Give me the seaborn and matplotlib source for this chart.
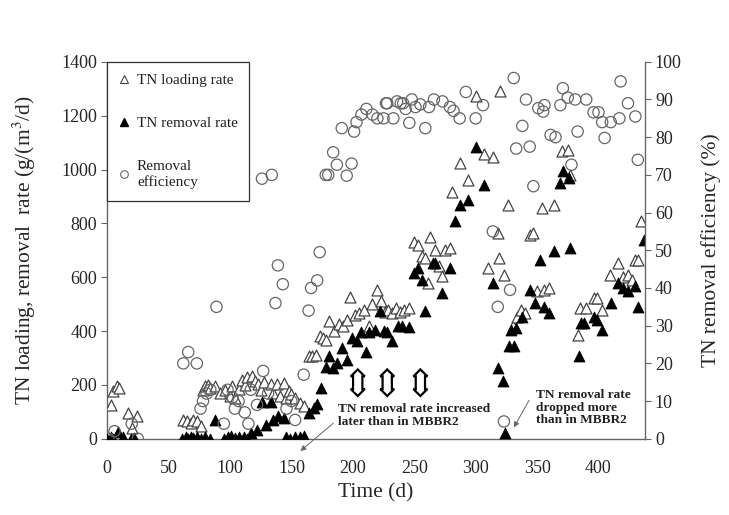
import matplotlib
matplotlib.use("Agg")
import matplotlib.pyplot as plt
import seaborn as sns
import pandas as pd
from matplotlib.lines import Line2D

# ---------------- data ----------------
load_day = [3, 5, 8, 10, 17, 20, 24,
            62, 65, 68, 70, 73, 76, 78, 80, 82, 84, 88, 92, 96, 100, 102, 104, 107, 110, 112, 114,
            118, 120, 123, 125, 128, 133, 135, 138, 141, 144, 146, 148, 150, 153, 157, 160, 164, 167,
            170, 173, 176, 178, 181, 185, 189, 192, 195, 198, 202, 205, 209, 213, 216, 220, 223, 226,
            229, 232, 235, 238, 242, 246, 250, 253, 256, 259, 261, 263, 267, 270, 273, 275, 279, 281,
            287, 294, 300, 307, 310, 314, 318, 319, 320, 323, 326, 330, 334, 337, 340, 344, 347, 350,
            354, 356, 360, 364, 370, 375, 377, 383, 385, 390, 396, 399, 403, 409, 416, 420, 424, 427,
            430, 432, 435]
load_val = [126, 176, 195, 188, 95, 40, 83,
            70, 65, 60, 70, 65, 46, 182, 195, 200, 190, 196, 170, 182, 160, 196, 150, 185, 219, 200, 231,
            232, 215, 203, 180, 210, 203, 170, 203, 160, 207, 150, 176, 168, 150, 133, 120, 306, 306,
            310, 380, 375, 367, 436, 400, 425, 417, 440, 528, 460, 467, 480, 417, 500, 553, 510, 470,
            480, 467, 485, 470, 480, 485, 729, 720, 680, 671, 578, 751, 702, 640, 603, 702, 708, 918,
            1024, 962, 1274, 1058, 634, 1048, 766, 671, 1293, 609, 869, 417, 454, 480, 467, 757, 764, 550,
            857, 553, 560, 869, 1067, 1071, 980, 386, 485, 485, 522, 522, 479, 609, 652, 600, 609, 590,
            665, 665, 807]

rem_day = [0, 3, 5, 9, 13, 19, 22,
           61, 64, 66, 68, 70, 73, 76, 80, 84, 88, 95, 98, 101, 104, 107, 111, 114, 117, 122, 126,
           129, 133, 135, 139, 144, 146, 149, 153, 157, 160, 164, 168, 171, 174, 178, 181, 184, 187,
           191, 195, 199, 203, 207, 211, 213, 218, 222, 225, 228, 232, 237, 240, 246, 250, 253, 256,
           259, 265, 267, 273, 279, 283, 287, 294, 300, 307, 314, 318, 322, 324, 327, 329, 331, 333,
           338, 344, 348, 352, 356, 360, 364, 369, 371, 376, 377, 384, 386, 388, 396, 399, 403, 410,
           416, 420, 424, 430, 432, 437]
rem_val = [0, 5, 0, 27, 5, 0, 3,
           0, 5, 0, 8, 3, 5, 0, 5, 0, 70, 0, 5, 10, 3, 8, 5, 0, 21, 33, 138,
           50, 138, 70, 83, 77, 5, 0, 5, 5, 10, 96, 114, 131, 188, 268, 306, 264, 283,
           337, 293, 374, 362, 398, 324, 398, 405, 473, 400, 398, 362, 417, 417, 414, 615, 634, 590,
           473, 652, 652, 541, 634, 807, 869, 887, 1085, 943, 578, 262, 213, 21, 343, 405, 343, 411,
           454, 553, 504, 665, 491, 467, 696, 949, 993, 968, 708, 308, 430, 430, 454, 440, 405, 504,
           578, 560, 547, 566, 491, 739]

eff_day = [1, 6, 20, 25,
           62, 66, 73, 76, 78, 81, 84, 89, 95, 98, 102, 104, 107, 112, 115, 117, 122, 126, 127,
           131, 134, 137, 139, 143, 146, 150, 153, 160, 164, 166, 171, 173, 178, 180, 184, 187, 191,
           195, 199, 201, 203, 207, 211, 216, 220, 225, 227, 228, 233, 236, 239, 241, 243, 246, 248,
           251, 255, 259, 262, 266, 273, 279, 282, 287, 292, 300, 306, 314, 318, 323, 328, 331, 333,
           338, 341, 344, 347, 351, 355, 356, 361, 365, 369, 371, 375, 378, 381, 383, 390, 396, 400,
           403, 405, 410, 417, 418, 424, 430, 432]
eff_val = [0, 2, 4, 0,
           20, 23, 20, 8, 10, 12, 13, 35, 4, 13, 11, 8, 10, 7, 4, 13, 9, 69, 18,
           12, 70, 36, 46, 41, 8, 10, 5, 17, 34, 40, 42, 49.5, 70, 70, 76, 72.7, 82.4,
           69.8, 73, 81.5, 84, 86, 87.5, 86, 85, 85, 89, 89, 85, 89.5, 89, 89, 87.5, 83.8, 90,
           88, 88.7, 82.4, 88, 90, 89.5, 88, 87, 85, 92, 85, 88.5, 55, 35, 4.6, 39.5, 95.7, 77,
           83, 90, 77.5, 67, 87.7, 86.8, 88.5, 80.6, 80, 88.5, 93, 90.5, 72.7, 90, 81.5, 90, 86.6, 86.6,
           84, 79.8, 84, 85, 94.8, 89, 85.5, 74]

x_ticks = [0, 50, 100, 150, 200, 250, 300, 350, 400]
left_ticks = [0, 200, 400, 600, 800, 1000, 1200, 1400]
right_ticks = [0, 10, 20, 30, 40, 50, 60, 70, 80, 90, 100]
legend_labels = ["TN loading rate", "TN removal rate", "Removal\nefficiency"]
arrow_days = [204, 228, 255]
arrow_level = 209

load_df = pd.DataFrame({"day": load_day, "val": load_val})
rem_df = pd.DataFrame({"day": rem_day, "val": rem_val})
eff_df = pd.DataFrame({"day": eff_day, "val": eff_val})

# ---------------- style ----------------
sns.set_style("white")
plt.rcParams["font.family"] = ["Liberation Serif", "DejaVu Serif"]
plt.rcParams["mathtext.fontset"] = "stix"

fig, ax = plt.subplots(figsize=(7.29, 5.15), dpi=100)
fig.subplots_adjust(left=0.147, right=0.885, top=0.880, bottom=0.148)
ax2 = ax.twinx()

sns.scatterplot(data=load_df, x="day", y="val", ax=ax, marker="^", s=62,
                color="white", edgecolor="#444444", linewidth=0.9, zorder=3)
sns.scatterplot(data=rem_df, x="day", y="val", ax=ax, marker="^", s=62,
                color="black", edgecolor="black", linewidth=0.6, zorder=4)
sns.scatterplot(data=eff_df, x="day", y="val", ax=ax2, marker="o", s=66,
                facecolor="none", edgecolor="#666666", linewidth=0.9, zorder=3)

ax.set_xlim(0, 438)
ax.set_ylim(0, 1400)
ax2.set_ylim(0, 100)
ax.set_xticks(x_ticks)
ax.set_yticks(left_ticks)
ax2.set_yticks(right_ticks)

spine_col = "#666666"
for a in (ax, ax2):
    for side in ("left", "right", "bottom"):
        a.spines[side].set_color(spine_col)
        a.spines[side].set_linewidth(1.0)
    a.spines["top"].set_visible(False)
ax.spines["right"].set_visible(False)
ax2.spines["left"].set_visible(False)
ax2.spines["bottom"].set_visible(False)

ax.tick_params(axis="y", direction="out", length=4, color=spine_col, labelsize=13, pad=3)
ax.tick_params(axis="x", direction="out", length=0, labelsize=13, pad=15)
ax2.tick_params(axis="y", direction="out", length=4, color=spine_col, labelsize=13, pad=3)

ax.set_xlabel("Time (d)", fontsize=15.5, labelpad=5)
ax.set_ylabel("TN loading, removal  rate (g/(m$^3$/d)", fontsize=15.5, labelpad=17)
ax2.set_ylabel("TN removal efficiency (%)", fontsize=15.5, labelpad=14)

# legend
handles = [
    Line2D([], [], marker="^", linestyle="none", markersize=5.5, markerfacecolor="white",
           markeredgecolor="#444444", markeredgewidth=0.8),
    Line2D([], [], marker="^", linestyle="none", markersize=5.5, markerfacecolor="black",
           markeredgecolor="black"),
    Line2D([], [], marker="o", linestyle="none", markersize=5.5, markerfacecolor="none",
           markeredgecolor="#666666", markeredgewidth=0.8),
]
leg = ax.legend(handles, legend_labels, loc="upper left", bbox_to_anchor=(0.0, 1.0),
                borderaxespad=0.0, frameon=True, fancybox=False, framealpha=1,
                edgecolor="#333333", fontsize=11, labelspacing=1.95, handlelength=0.7,
                handletextpad=0.5, borderpad=0.75)
leg.get_frame().set_linewidth(0.9)
leg.set_zorder(10)
for t in leg.get_texts():
    t.set_color("#222222")

# hollow double arrows
for d in arrow_days:
    ax.text(d, arrow_level, "MMM", rotation=90, fontsize=4.4, color="white",
            ha="center", va="center", zorder=6,
            bbox=dict(boxstyle="darrow,pad=0.35", fc="white", ec="black", lw=1.6))

# annotation texts with arrows
ax.text(188, 85, "TN removal rate increased\nlater than in MBBR2", fontsize=9.6,
        fontweight="bold", color="#222222", ha="left", va="center", linespacing=1.1, zorder=6)
ax.annotate("", xy=(155.6, -52), xytext=(185.7, 64), annotation_clip=False,
            arrowprops=dict(arrowstyle="-|>", lw=0.7, color="#666666", mutation_scale=8))

ax.text(349, 116, "TN removal rate\ndropped more\nthan in MBBR2", fontsize=9.6,
        fontweight="bold", color="#222222", ha="left", va="center", linespacing=1.05, zorder=6)
ax.annotate("", xy=(330, 33), xytext=(344.6, 152), annotation_clip=False,
            arrowprops=dict(arrowstyle="-|>", lw=0.7, color="#666666", mutation_scale=8))

fig.savefig("out.png", dpi=100)
